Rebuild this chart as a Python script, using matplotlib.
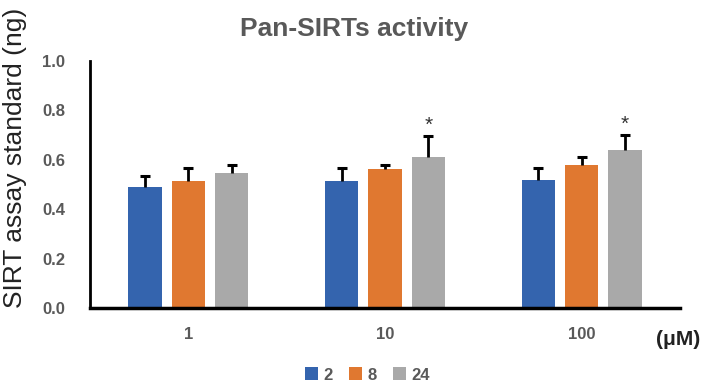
import matplotlib.pyplot as plt
import numpy as np

plt.rcParams['font.family'] = ['Liberation Sans', 'DejaVu Sans']

# concentrations (uM) and time points (h)
conc = ['1', '10', '100']
hours = ['2', '8', '24']
vals_2 = [0.49, 0.516, 0.52]
vals_8 = [0.516, 0.561, 0.58]
vals_24 = [0.545, 0.61, 0.64]
err_2 = [0.045, 0.049, 0.045]
err_8 = [0.049, 0.016, 0.03]
err_24 = [0.032, 0.085, 0.06]
star = [False, True, True]

colors = ['#3464ae', '#e07830', '#a9a9a9']
grey = '#595959'

fig = plt.figure(figsize=(7.09, 3.84), dpi=100)
ax = fig.add_axes([0.127, 0.198, 0.832, 0.643])

x = np.arange(len(conc))
w = 0.17
step = 0.22
cap = 0.025
series = [vals_2, vals_8, vals_24]
errs = [err_2, err_8, err_24]
for i, (v, e) in enumerate(zip(series, errs)):
    pos = x + (i - 1) * step
    v = np.array(v)
    e = np.array(e)
    ax.bar(pos, v, w, color=colors[i], label=hours[i], zorder=2)
    # upper error bar only
    ax.vlines(pos, v, v + e, color='black', lw=2, zorder=3)
    ax.hlines(v + e, pos - cap, pos + cap, color='black', lw=2.2, zorder=3)

# significance marks over the 24 h bars
for xi, v, e, s in zip(x, vals_24, err_24, star):
    if s:
        ax.text(xi + step, v + e + 0.005, '*', ha='center', va='bottom', fontsize=15, color='#333333')

ax.set_xlim(-0.5, 2.5)
ax.set_ylim(0, 1.0)
ax.set_yticks(np.arange(0, 1.01, 0.2))
ax.set_yticklabels(['%.1f' % t for t in np.arange(0, 1.01, 0.2)], fontsize=12, fontweight='bold', color=grey)
ax.set_xticks(x)
ax.set_xticklabels(conc, fontsize=12, fontweight='bold', color=grey)
ax.tick_params(length=0, pad=14, axis='x')
ax.tick_params(length=0, pad=18, axis='y')
for s in ['top', 'right']:
    ax.spines[s].set_visible(False)
ax.spines['left'].set_linewidth(2)
ax.spines['bottom'].set_linewidth(2.5)

fig.text(0.021, 0.59, 'SIRT assay standard (ng)', rotation=90, ha='center', va='center',
         fontsize=19, color='#222222')
fig.text(0.50, 0.925, 'Pan-SIRTs activity', ha='center', va='center', fontsize=19,
         fontweight='bold', color=grey)
fig.text(0.957, 0.115, '(μM)', ha='center', va='center', fontsize=15, fontweight='bold', color='#222222')

ax.legend(loc='upper center', bbox_to_anchor=(0.47, -0.18), ncol=3, frameon=False,
          handlelength=0.8, handleheight=0.8, handletextpad=0.3, columnspacing=1.0,
          prop={'size': 12, 'weight': 'bold'}, labelcolor=grey)

fig.savefig('out.png', dpi=100)
